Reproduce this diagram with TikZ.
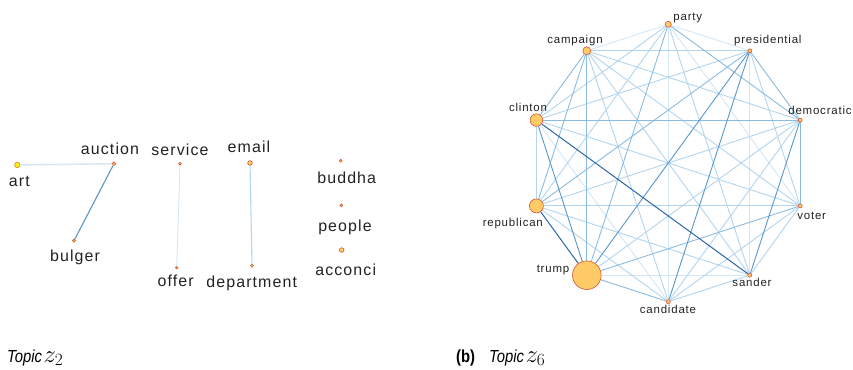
\documentclass[tikz,border=0pt]{standalone}
\usepackage{fontspec}
\setmainfont{Liberation Sans}
\newfontfamily\lblfont[LetterSpace=7]{Liberation Sans}
\usetikzlibrary{backgrounds}
\definecolor{eA}{HTML}{D3E7F5}
\definecolor{eB}{HTML}{B3D5EE}
\definecolor{eC}{HTML}{8ABCE1}
\definecolor{eD}{HTML}{5A96CB}
\definecolor{eE}{HTML}{2C66A9}
\definecolor{nfill}{HTML}{FFCB66}
\definecolor{nline}{HTML}{D2553A}
\definecolor{artfill}{HTML}{FFEE11}
\definecolor{artline}{HTML}{D08A1A}
\definecolor{txt}{HTML}{222222}
\tikzset{
  vnode/.style={circle,fill=nfill,draw=nline,line width=0.6bp,inner sep=0pt,minimum size=#1},
  bigl/.style={font=\lblfont\fontsize{16}{18}\selectfont,text=txt,inner sep=0pt,anchor=base},
  smalll/.style={font=\lblfont\fontsize{11.5}{13}\selectfont,text=txt,inner sep=0pt,anchor=base},
  capt/.style={text=black,inner sep=0pt,anchor=base west},
  ew/.style={line width=0.9bp}
}
\begin{document}
\begin{tikzpicture}[x=1bp,y=-1bp]
\useasboundingbox (0,0) rectangle (853,369);
% ---------- left graph ----------
\node[vnode=5.4bp,fill=artfill,draw=artline] (art) at (17.3,165) {};
\node[vnode=3.6bp] (auction) at (114,163.7) {};
\node[vnode=3.2bp] (bulger) at (74,240.7) {};
\node[vnode=2.8bp] (service) at (180,163.7) {};
\node[vnode=2.6bp] (offer) at (176.7,267.7) {};
\node[vnode=4.6bp] (email) at (250,163) {};
\node[vnode=3bp] (department) at (252,265.7) {};
\node[vnode=2.8bp] (buddha) at (340.7,160.7) {};
\node[vnode=2.8bp] (people) at (341.3,205.3) {};
\node[vnode=4.6bp] (acconci) at (341.7,250) {};
\begin{scope}[on background layer]
  \draw[ew,eA,line width=1.4bp] (art) -- (auction);
  \draw[ew,eD,line width=1.1bp] (auction) -- (bulger);
  \draw[ew,eA] (service) -- (offer);
  \draw[ew,eB,line width=1.1bp] (email) -- (department);
\end{scope}
\node[bigl] (l-art) at (19.3,186.7) {art};
\node[bigl] (l-auction) at (110,154) {auction};
\node[bigl] (l-bulger) at (75,261.7) {bulger};
\node[bigl] (l-service) at (180,155.3) {service};
\node[bigl] (l-offer) at (175.7,286.7) {offer};
\node[bigl] (l-email) at (249,152.7) {email};
\node[bigl] (l-department) at (251.7,287.3) {department};
\node[bigl] (l-buddha) at (346.7,183.3) {buddha};
\node[bigl] (l-people) at (345,231.7) {people};
\node[bigl] (l-acconci) at (345.7,275) {acconci};
% ---------- right graph ----------
\node[vnode=6bp] (pa) at (668.3,24.3) {};
\node[vnode=4bp] (pr) at (749.8,50.8) {};
\node[vnode=4bp] (de) at (800.2,120.1) {};
\node[vnode=4bp] (vo) at (800.2,205.9) {};
\node[vnode=4bp] (sa) at (749.8,275.2) {};
\node[vnode=4bp] (ca) at (668.3,301.7) {};
\node[vnode=28.6bp] (tr) at (586.8,275.2) {};
\node[vnode=14bp] (re) at (536.4,205.9) {};
\node[vnode=12.6bp] (cl) at (536.4,120.1) {};
\node[vnode=8bp] (cm) at (586.8,50.8) {};
\begin{scope}[on background layer]
  \foreach \a/\b in {pa/pr,pa/vo,pa/ca,pa/cm,pr/sa,sa/tr,ca/cl}
    \draw[ew,eA] (\a) -- (\b);
  \foreach \a/\b in {pa/sa,pa/re,pa/cl,pr/vo,pr/cl,pr/cm,de/ca,de/tr,de/re,de/cm,vo/sa,vo/ca,vo/re,vo/cl,vo/cm,sa/ca,sa/re,sa/cm,ca/re,ca/cm,re/cl}
    \draw[ew,eB] (\a) -- (\b);
  \foreach \a/\b in {pa/de,pa/tr,pr/de,pr/re,de/vo,de/cl,vo/tr,ca/tr,tr/cm,re/cm,cl/cm}
    \draw[ew,eC] (\a) -- (\b);
  \foreach \a/\b in {pr/ca,pr/tr,de/sa,tr/cl}
    \draw[ew,eD] (\a) -- (\b);
  \foreach \a/\b in {sa/cl,tr/re}
    \draw[ew,eE,line width=1bp] (\a) -- (\b);
\end{scope}
\node[smalll] (l-pa) at (687.8,20.7) {party};
\node[smalll] (l-cm) at (575,43.7) {campaign};
\node[smalll] (l-pr) at (767.8,43.7) {presidential};
\node[smalll] (l-cl) at (528,111.7) {clinton};
\node[smalll] (l-de) at (820,114.3) {democratic};
\node[smalll] (l-re) at (512.8,226) {republican};
\node[smalll] (l-vo) at (811.7,219) {voter};
\node[smalll] (l-tr) at (553,272.7) {trump};
\node[smalll] (l-sa) at (752,286.7) {sander};
\node[smalll] (l-ca) at (668,313.3) {candidate};
% ---------- captions ----------
\node[capt] (cap2) at (7,362) {\fontsize{17.5}{20}\selectfont\scalebox{0.85}[1]{\itshape Topic}\hspace{1.5bp}\fontsize{24}{26}\selectfont$z_2$};
\node[capt] (cap6) at (456,362) {\fontsize{17.5}{20}\selectfont\scalebox{0.85}[1]{\bfseries (b)}\hspace{14bp}\scalebox{0.85}[1]{\itshape Topic}\hspace{1.5bp}\fontsize{24}{26}\selectfont$z_6$};
\end{tikzpicture}
\end{document}
